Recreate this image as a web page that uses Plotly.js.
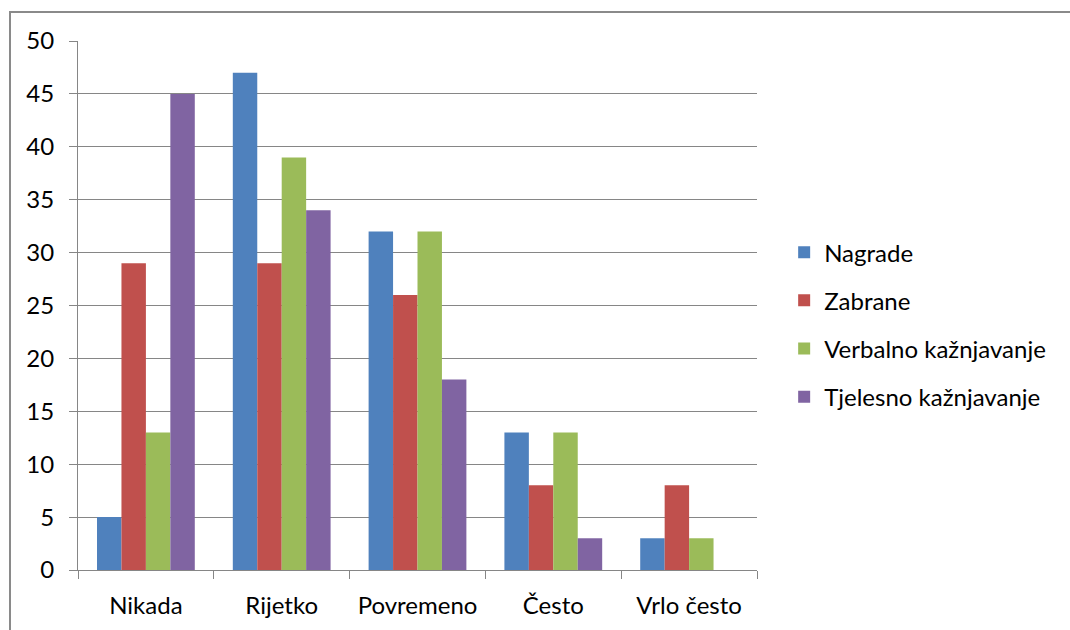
<!DOCTYPE html>
<html>
<head>
<meta charset="utf-8">
<script src="https://cdn.plot.ly/plotly-3.0.1.min.js"></script>
<style>
html,body{margin:0;padding:0;background:#fff;}
#wrap{position:relative;width:1070px;height:630px;}
#chart{width:1070px;height:630px;}
#frame{position:absolute;left:9px;top:11px;width:1100px;height:700px;border-left:2px solid #8a8a8a;border-top:2px solid #8a8a8a;pointer-events:none;}
</style>
</head>
<body>
<div id="wrap"><div id="chart"></div><div id="frame"></div></div>
<script>
const categories = ["Nikada", "Rijetko", "Povremeno", "Često", "Vrlo često"];
const seriesNames = ["Nagrade", "Zabrane", "Verbalno kažnjavanje", "Tjelesno kažnjavanje"];
const nagrade = [5, 47, 32, 13, 3];
const zabrane = [29, 29, 26, 8, 8];
const verbalno = [13, 39, 32, 13, 3];
const tjelesno = [45, 34, 18, 3, 0];
const colors = ["#4F81BD", "#C0504D", "#9BBB59", "#8064A2"];
const yTicks = [0, 5, 10, 15, 20, 25, 30, 35, 40, 45, 50];

const allValues = [nagrade, zabrane, verbalno, tjelesno];
const traces = allValues.map((vals, i) => ({
  type: "bar",
  name: seriesNames[i],
  x: categories,
  y: vals,
  marker: {color: colors[i], line: {width: 0}},
  legendgroup: "g" + i,
  hoverinfo: "x+y+name"
}));

const layout = {
  width: 1070,
  height: 630,
  margin: {l: 78, r: 313, t: 41, b: 60},
  paper_bgcolor: "#fff",
  plot_bgcolor: "#fff",
  font: {family: "Lato, 'Open Sans', sans-serif", size: 24, color: "#000"},
  barmode: "group",
  bargap: 0.28,
  bargroupgap: 0,
  showlegend: true,
  legend: {
    x: 1.040, xanchor: "left", y: 0.464, yanchor: "middle",
    tracegroupgap: 14,
    font: {size: 24, color: "#000"},
    bgcolor: "rgba(0,0,0,0)"
  },
  xaxis: {
    type: "category",
    showline: true, linecolor: "#868686", linewidth: 1,
    ticks: "outside", tickson: "boundaries", ticklen: 8, tickcolor: "#868686",
    ticklabelstandoff: 14,
    showgrid: false, zeroline: false,
    tickfont: {size: 24, color: "#000"}
  },
  yaxis: {
    range: [0, 50],
    tickvals: yTicks,
    ticktext: yTicks.map(String),
    showline: true, linecolor: "#868686", linewidth: 1,
    ticks: "outside", ticklen: 8, tickcolor: "#868686",
    ticklabelstandoff: 10,
    showgrid: true, gridcolor: "#868686", gridwidth: 1,
    zeroline: false,
    tickfont: {size: 24, color: "#000"}
  }
};

Plotly.newPlot("chart", traces, layout, {displayModeBar: false, staticPlot: true});
</script>
</body>
</html>
